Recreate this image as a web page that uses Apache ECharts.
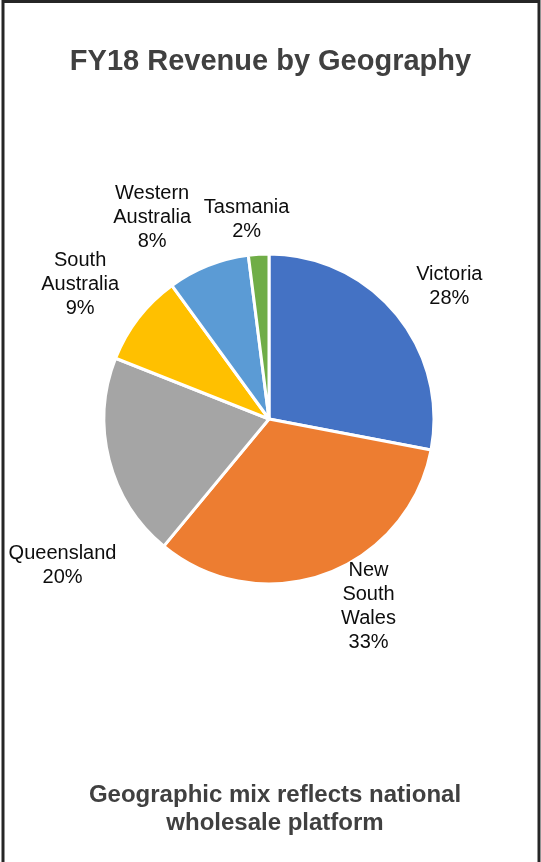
<!DOCTYPE html>
<html>
<head>
<meta charset="utf-8">
<title>FY18 Revenue by Geography</title>
<script src="https://cdn.jsdelivr.net/npm/echarts@6/dist/echarts.min.js"></script>
<style>
  html, body { margin: 0; padding: 0; background: #ffffff; }
  #chart { width: 541px; height: 862px; }
</style>
</head>
<body>
<div id="chart"></div>
<script>
// Revenue share by state, FY18 (percent of total)
const regions = ['Victoria', 'New South Wales', 'Queensland', 'South Australia', 'Western Australia', 'Tasmania'];
const shares = [28, 33, 20, 9, 8, 2];
const sliceColors = ['#4472C4', '#ED7D31', '#A5A5A5', '#FFC000', '#5B9BD5', '#70AD47'];

// Label placement relative to each slice: [angle offset in degrees (clockwise), distance beyond the rim in px]
const labelShift = [[3.2, 59], [-8.2, 47], [-20.9, 88], [-2.3, 67], [-8.5, 68], [-2.8, 36]];

const FONT = '"Liberation Sans", Arial, Helvetica, sans-serif';
const chart = echarts.init(document.getElementById('chart'), null, { renderer: 'canvas' });

function placeLabel(params) {
  const idx = params.dataIndex;
  const data = chart.getModel().getSeriesByIndex(0).getData();
  const lay = data.getItemLayout(idx);
  const shift = labelShift[idx];
  const mid = (lay.startAngle + lay.endAngle) / 2 + shift[0] * Math.PI / 180;
  const dist = lay.r + shift[1];
  return {
    x: lay.cx + dist * Math.cos(mid),
    y: lay.cy + dist * Math.sin(mid),
    align: 'center',
    verticalAlign: 'middle'
  };
}

chart.setOption({
  animation: false,
  backgroundColor: '#ffffff',
  title: {
    text: 'FY18 Revenue by Geography',
    left: 'center',
    top: 42,
    textStyle: { fontFamily: FONT, fontSize: 29, fontWeight: 'bold', color: '#404040', lineHeight: 29 }
  },
  graphic: [
    {
      type: 'polyline',
      shape: { points: [[3, 862], [3, 1.5], [539, 1.5], [539, 862]] },
      style: { stroke: '#262626', lineWidth: 3, fill: null },
      silent: true
    },
    {
      type: 'text',
      x: 275,
      y: 781,
      silent: true,
      style: {
        text: 'Geographic mix reflects national\nwholesale platform',
        font: 'bold 24px ' + FONT,
        fill: '#404040',
        align: 'center',
        verticalAlign: 'top',
        lineHeight: 28
      }
    }
  ],
  series: [
    {
      type: 'pie',
      center: [269, 419],
      radius: 165,
      startAngle: 90,
      clockwise: true,
      avoidLabelOverlap: false,
      itemStyle: { borderColor: '#ffffff', borderWidth: 3 },
      label: {
        show: true,
        position: 'outside',
        fontFamily: FONT,
        fontSize: 20,
        lineHeight: 24,
        color: '#0d0d0d',
        formatter: p => p.name.split(' ').join('\n') + '\n' + p.value + '%'
      },
      labelLine: { show: false },
      labelLayout: placeLabel,
      emphasis: { disabled: true },
      data: regions.map((name, i) => ({
        name: name,
        value: shares[i],
        itemStyle: { color: sliceColors[i] }
      }))
    }
  ]
});
</script>
</body>
</html>
